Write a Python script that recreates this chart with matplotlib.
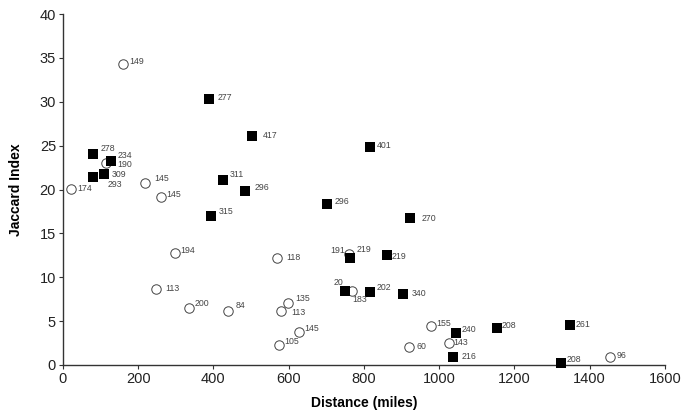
import matplotlib.pyplot as plt

plt.rcParams['font.family'] = ['Liberation Sans', 'DejaVu Sans']

# open circles
circ_x = [160, 114, 21, 218, 261, 298, 570, 246, 334, 438, 597, 579, 628, 573,
          761, 768, 979, 1026, 921, 1453]
circ_y = [34.3, 23.0, 20.1, 20.8, 19.2, 12.8, 12.2, 8.65, 6.55, 6.2, 7.1, 6.1, 3.8, 2.3,
          12.65, 8.45, 4.4, 2.55, 2.0, 0.95]
circ_lab = ['149', '190', '174', '145', '145', '194', '118', '113', '200', '84', '135', '113',
            '145', '105', '191', '183', '155', '143', '60', '96']

# filled squares
sq_x = [388, 503, 79, 128, 110, 81, 425, 484, 393, 701, 815, 923, 763, 862, 750, 815,
        905, 1044, 1036, 1153, 1348, 1323]
sq_y = [30.3, 26.1, 24.0, 23.3, 21.8, 21.4, 21.1, 19.8, 16.95, 18.4, 24.9, 16.7, 12.2, 12.5,
        8.45, 8.3, 8.1, 3.7, 0.9, 4.2, 4.6, 0.2]
sq_lab = ['277', '417', '278', '234', '309', '293', '311', '296', '315', '296', '401', '270',
          '219', '219', '20', '202', '340', '240', '216', '208', '261', '208']

# label offsets in pixels (dx, dy)
circ_off = [(6, 3), (11, -1), (6, 0), (9, 4), (5, 2), (5, 2), (9, 0), (10, 1), (6, 4), (8, 5),
            (8, 4), (11, -1), (5, 3), (6, 3), (-4, 4), (0, -9), (5, 3), (4, 0), (7, 1), (7, 1)]
sq_off = [(9, 2), (11, 1), (8, 6), (6, 5), (7, -1), (14, -7), (7, 5), (10, 4), (8, 5), (8, 2),
          (7, 1), (11, 0), (7, 8), (4, -1), (-2, 8), (7, 4.5), (8, 0), (6, 3), (9, 1), (5, 3),
          (6, 0), (6, 4)]

fig = plt.figure(figsize=(6.95, 4.15), dpi=100)
ax = fig.add_axes([0.0906, 0.1205, 0.866, 0.8455])

ax.plot(circ_x, circ_y, 'o', ms=6.8, mfc='white', mec='#444444', mew=0.7,
        linestyle='none', clip_on=False, zorder=3)
ax.plot(sq_x, sq_y, 's', ms=7.5, mfc='black', mec='black', mew=0,
        linestyle='none', clip_on=False, zorder=4)

for xs, ys, labs, offs in [(circ_x, circ_y, circ_lab, circ_off), (sq_x, sq_y, sq_lab, sq_off)]:
    for x, y, t, (dx, dy) in zip(xs, ys, labs, offs):
        ax.annotate(t, (x, y), xytext=(dx, dy), textcoords='offset pixels',
                    ha='right' if dx < 0 else 'left', va='center',
                    fontsize=6.3, color='#444444', zorder=5)

ax.set_xlim(0, 1600)
ax.set_ylim(0, 40)
ax.set_xticks(range(0, 1601, 200))
ax.set_yticks(range(0, 41, 5))
ax.spines['top'].set_visible(False)
ax.spines['right'].set_visible(False)
for s in ['left', 'bottom']:
    ax.spines[s].set_color('#333333')
    ax.spines[s].set_linewidth(1)
ax.tick_params(direction='out', length=3, width=0.8, colors='#333333',
               labelsize=10.5, labelcolor='#222222', pad=2)

ax.set_xlabel('Distance (miles)', fontsize=10, fontweight='bold', labelpad=7)
ax.set_ylabel('Jaccard Index', fontsize=10, fontweight='bold', labelpad=12)

fig.savefig('out.png', dpi=100)
